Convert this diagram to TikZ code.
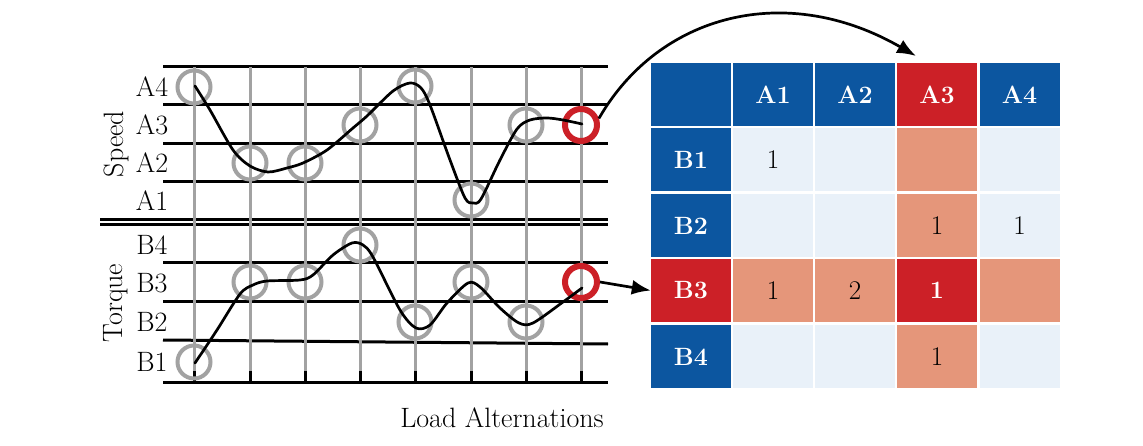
\documentclass[tikz,border=0pt]{standalone}
\usepackage{fontspec}
\usetikzlibrary{arrows.meta}
\definecolor{tblue}{RGB}{12,86,160}
\definecolor{tred}{RGB}{204,32,39}
\definecolor{tsalmon}{RGB}{229,150,122}
\definecolor{tlight}{RGB}{233,241,249}
\definecolor{lgray}{RGB}{162,162,162}
\begin{document}
\begin{tikzpicture}[x=1pt,y=-1pt,
  hline/.style={line width=3pt,black},
  vline/.style={line width=3pt,lgray},
  tick/.style={line width=3pt,black},
  ring/.style={circle,draw=lgray,line width=4pt,minimum size=33pt,inner sep=0pt},
  redring/.style={circle,draw=tred,line width=6pt,minimum size=32pt,inner sep=0pt},
  curve/.style={line width=2.7pt,black,line join=round,line cap=round},
  lbl/.style={font=\fontsize{28}{32}\selectfont},
  cell/.style={minimum width=80pt,minimum height=63pt,inner sep=0pt,font=\fontsize{27}{30}\selectfont},
  hdr/.style={cell,fill=tblue,text=white,font=\fontsize{25}{30}\selectfont\bfseries},
  hdrred/.style={cell,fill=tred,text=white,font=\fontsize{25}{30}\selectfont\bfseries},
  lt/.style={cell,fill=tlight},
  sal/.style={cell,fill=tsalmon},
  arr/.style={line width=2.7pt,-{Latex[length=19pt,width=15pt]}}
]
\useasboundingbox (0,0) rectangle (1143,446);

% horizontal lines
\foreach \yy in {67,105,144,182,263,302,382}
  \draw[hline] (163,\yy) -- (608,\yy);
\draw[hline] (163,340) -- (608,344);
\draw[hline] (100,220) -- (608,220);
\draw[hline] (100,225) -- (608,225);

% vertical lines and ticks
\foreach \xx in {194,250,305,360,415,471,526,581} {
  \draw[vline] (\xx,67) -- (\xx,382);
  \draw[tick] (\xx,371) -- (\xx,382);
}

% labels
\node[lbl] (la4) at (152,87) {A4};
\node[lbl] (la3) at (152,125) {A3};
\node[lbl] (la2) at (152,163) {A2};
\node[lbl] (la1) at (152,201) {A1};
\node[lbl] (lb4) at (152,245) {B4};
\node[lbl] (lb3) at (152,283) {B3};
\node[lbl] (lb2) at (152,322) {B2};
\node[lbl] (lb1) at (152,362) {B1};
\node[lbl,rotate=90] (speed) at (116,144) {Speed};
\node[lbl,rotate=90] (torque) at (116,303) {Torque};
\node[lbl] (xlabel) at (502,418) {Load Alternations};

% upper circles
\node[ring] (u1) at (194,87) {};
\node[ring] (u2) at (250,163) {};
\node[ring] (u3) at (305,163) {};
\node[ring] (u4) at (360,125) {};
\node[ring] (u5) at (415,86) {};
\node[ring] (u6) at (471,200) {};
\node[ring] (u7) at (526,125) {};
\node[redring] (ur) at (581,125) {};

% lower circles
\node[ring] (d1) at (194,362) {};
\node[ring] (d2) at (250,282) {};
\node[ring] (d3) at (305,282) {};
\node[ring] (d4) at (360,245) {};
\node[ring] (d5) at (415,322) {};
\node[ring] (d6) at (471,282) {};
\node[ring] (d7) at (526,322) {};
\node[redring] (dr) at (581,282) {};

% curves
\draw[curve] plot[smooth,tension=0.5] coordinates {(195,86) (210,110) (233,150) (250,166) (268,172) (287,168) (303,163) (327,150) (353,128) (367,116) (393,91) (410,83) (421,88) (430,105) (450,160) (465,198) (473,203) (481,199) (500,160) (517,129) (530,120) (547,118) (563,120) (582,124)};
\draw[curve] plot[smooth,tension=0.5] coordinates {(195,363) (217,330) (240,294) (253,285) (267,281) (300,280) (313,275) (333,255) (352,243) (363,245) (373,257) (400,310) (416,328) (430,325) (447,303) (468,283) (480,287) (500,308) (519,323) (533,323) (563,302) (582,288)};

% table
\node[hdr] (t-0-0) at (691,94.5) {};
\node[hdr] (t-1-0) at (773,94.5) {A1};
\node[hdr] (t-2-0) at (855,94.5) {A2};
\node[hdrred] (t-3-0) at (937,94.5) {A3};
\node[hdr] (t-4-0) at (1019.5,94.5) {A4};

\node[hdr] (t-0-1) at (691,159.5) {B1};
\node[lt] (t-1-1) at (773,159.5) {1};
\node[lt] (t-2-1) at (855,159.5) {};
\node[sal] (t-3-1) at (937,159.5) {};
\node[lt] (t-4-1) at (1019.5,159.5) {};

\node[hdr] (t-0-2) at (691,225.5) {B2};
\node[lt] (t-1-2) at (773,225.5) {};
\node[lt] (t-2-2) at (855,225.5) {};
\node[sal] (t-3-2) at (937,225.5) {1};
\node[lt] (t-4-2) at (1019.5,225.5) {1};

\node[hdrred] (t-0-3) at (691,290.5) {B3};
\node[sal] (t-1-3) at (773,290.5) {1};
\node[sal] (t-2-3) at (855,290.5) {2};
\node[hdrred] (t-3-3) at (937,290.5) {1};
\node[sal] (t-4-3) at (1019.5,290.5) {};

\node[hdr] (t-0-4) at (691,356.5) {B4};
\node[lt] (t-1-4) at (773,356.5) {};
\node[lt] (t-2-4) at (855,356.5) {};
\node[sal] (t-3-4) at (937,356.5) {1};
\node[lt] (t-4-4) at (1019.5,356.5) {};

% arrows
\coordinate (aend) at (916,56);
\draw[arr] (ur.20) .. controls (659,14) and (786,-19) .. (aend);
\draw[arr] (dr.east) -- (t-0-3.west);
\end{tikzpicture}
\end{document}
